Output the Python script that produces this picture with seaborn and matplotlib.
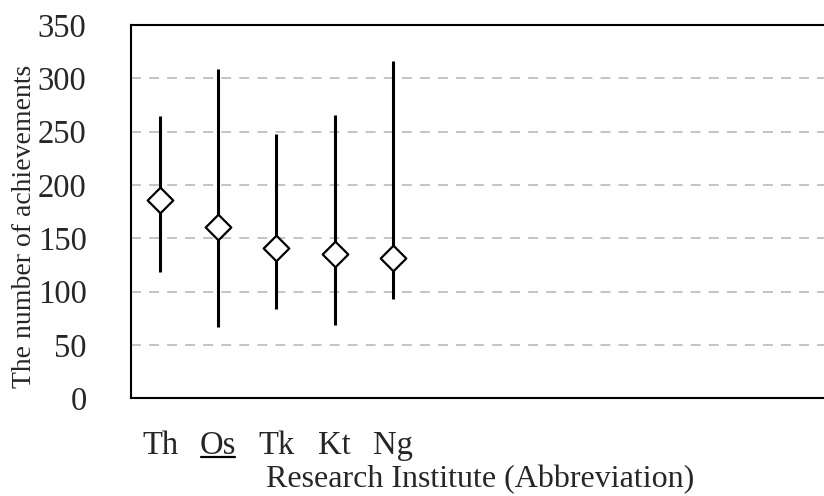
import numpy as np
import pandas as pd
import matplotlib
matplotlib.use("Agg")
import matplotlib.pyplot as plt
from matplotlib.lines import Line2D
import seaborn as sns

categories = ["Th", "Os", "Tk", "Kt", "Ng"]
underlined = ["Os"]
center = [186, 161, 141, 135, 132]
low = [118, 67, 84, 69, 93]
high = [265, 309, 248, 266, 316]
n_slots = 12

sns.set_theme(style="white")
plt.rcParams["font.family"] = ["Liberation Serif", "DejaVu Serif"]

df = pd.DataFrame({"cat": categories, "center": center, "low": low, "high": high})
df["pos"] = np.arange(len(categories))

fig = plt.figure(figsize=(8.24, 4.96), dpi=100)
ax = fig.add_axes([131 / 824, 1 - 398.3 / 496, (829 - 131) / 824, (398.3 - 25) / 496])

ax.vlines(df["pos"], df["low"], df["high"], color="black", lw=2.2, zorder=2)
sns.scatterplot(data=df, x="pos", y="center", marker="D", s=170,
                facecolor="white", edgecolor="black", linewidth=1.6,
                zorder=3, ax=ax, legend=False)

ax.set_xlim(-0.5, n_slots - 0.5)
ax.set_ylim(0, 350)
ax.set_yticks(np.arange(0, 351, 50))
ax.set_xticks(df["pos"])
ax.set_xticklabels(categories)
ax.tick_params(axis="y", labelsize=23.5, pad=32, length=0)
ax.tick_params(axis="x", labelsize=23.5, pad=23, length=0)
ax.yaxis.grid(True, color="#BFBFBF", lw=1.3, ls=(0, (5.5, 4.5)))
ax.xaxis.grid(False)
ax.set_axisbelow(True)
for s in ["left", "top", "bottom"]:
    ax.spines[s].set_color("black")
    ax.spines[s].set_linewidth(1.5)
ax.spines["right"].set_visible(False)

ax.set_xlabel("Research Institute (Abbreviation)", fontsize=23, labelpad=3)
ax.set_ylabel("The number of achievements", fontsize=20)
ax.yaxis.set_label_coords(-94 / 698, 0.46)

# underline selected tick labels
fig.canvas.draw()
renderer = fig.canvas.get_renderer()
for lab in ax.get_xticklabels():
    if lab.get_text() in underlined:
        bb = lab.get_window_extent(renderer)
        y = bb.y0 + 0.12 * bb.height
        fig.add_artist(Line2D([bb.x0 + 1, bb.x1 - 1], [y, y], color="black", lw=1.6,
                              transform=None))

fig.savefig("out.png", dpi=100)
